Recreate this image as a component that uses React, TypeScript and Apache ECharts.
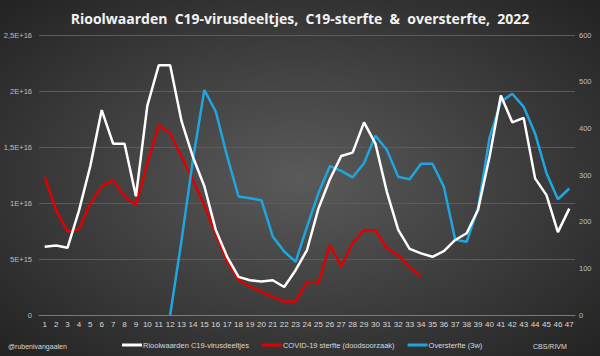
import React, { useEffect, useRef } from "react";
import * as echarts from "echarts";

const weeks = Array.from({ length: 47 }, (_, i) => String(i + 1));

// Rioolwaarden C19-virusdeeltjes (left axis, x1E15)
const rioolE15 = [
  6.1, 6.2, 6.0, 9.3, 13.3, 18.3, 15.3, 15.3, 10.6, 18.7, 22.3, 22.3, 17.3, 14.1, 11.5, 7.6,
  5.2, 3.4, 3.1, 3.0, 3.1, 2.5, 4.0, 5.8, 9.5, 12.1, 14.2, 14.5, 17.2, 15.3, 11.0, 7.6,
  5.9, 5.5, 5.2, 5.7, 6.7, 7.3, 9.4, 14.1, 19.6, 17.2, 17.6, 12.2, 10.7, 7.4, 9.5,
];

// COVID-19 sterfte (doodsoorzaak) (right axis)
const covidSterfte: (number | null)[] = [
  296, 225, 179, 184, 239, 275, 289, 254, 236, 325, 407, 389, 339, 289, 235, 173, 115,
  75, 61, 50, 39, 29, 29, 71, 68, 150, 104, 154, 182, 181, 143, 128, 102, 82,
  null, null, null, null, null, null, null, null, null, null, null, null, null,
];

// Oversterfte (3w) (right axis)
const oversterfte: (number | null)[] = [
  null, null, null, null, null, null, null, null, null, null, null, 0, 160, 333, 482, 436, 340,
  254, 250, 246, 168, 136, 114, 189, 261, 319, 309, 295, 325, 384, 354, 296, 291, 324, 324,
  275, 161, 157, 229, 379, 457, 474, 446, 389, 304, 248, 271,
];

const leftTickLabels: Record<string, string> = {
  "0": "0",
  "5": "5E+15",
  "10": "1E+16",
  "15": "1,5E+16",
  "20": "2E+16",
  "25": "2,5E+16",
};

const rioolValues = rioolE15.map((v) => v * 1e15);

export default function App() {
  const ref = useRef<HTMLDivElement>(null);
  useEffect(() => {
    if (!ref.current) return;
    const chart = echarts.init(ref.current, undefined, { renderer: "svg" });
    const font = "'Open Sans', 'Liberation Sans', sans-serif";
    const small = "'Liberation Sans', Arial, sans-serif";
    chart.setOption({
      animation: false,
      backgroundColor: {
        type: "radial",
        x: 0.5,
        y: 0.5,
        r: 0.75,
        colorStops: [
          { offset: 0, color: "#5a5a5a" },
          { offset: 1, color: "#1f1f1f" },
        ],
      },
      textStyle: { fontFamily: font },
      title: {
        text: "Rioolwaarden  C19-virusdeeltjes,  C19-sterfte  &  oversterfte,  2022",
        left: "center",
        top: 6,
        textStyle: { color: "#f2f2f2", fontSize: 14, fontWeight: "bold", fontFamily: font },
      },
      grid: { left: 39, right: 25, top: 35, bottom: 41, containLabel: false },
      legend: {
        top: 336,
        left: 117,
        itemWidth: 20,
        itemHeight: 3,
        itemGap: 13,
        icon: "rect",
        textStyle: { color: "#d9d9d9", fontSize: 7.5, fontFamily: small, padding: [0, 0, 0, -4] },
        data: [
          { name: "Rioolwaarden C19-virusdeeltjes", itemStyle: { color: "#ffffff" } },
          { name: "COVID-19 sterfte (doodsoorzaak)", itemStyle: { color: "#e00000" } },
          { name: "Oversterfte (3w)", itemStyle: { color: "#1ea6df" } },
        ],
      },
      graphic: [
        {
          type: "text",
          left: 8,
          top: 343,
          style: { text: "@rubenivangaalen", fill: "#d9d9d9", fontSize: 7, fontFamily: small },
        },
        {
          type: "text",
          left: 533,
          top: 343,
          style: { text: "CBS/RIVM", fill: "#d9d9d9", fontSize: 7, fontFamily: small },
        },
      ],
      xAxis: {
        type: "category",
        data: weeks,
        boundaryGap: true,
        axisLine: { lineStyle: { color: "#7a7a7a", width: 1 } },
        axisTick: { show: false },
        axisLabel: { color: "#d9d9d9", fontSize: 8, interval: 0, margin: 5, fontFamily: small },
      },
      yAxis: [
        {
          type: "value",
          min: 0,
          max: 2.5e16,
          interval: 5e15,
          axisLine: { show: false },
          axisTick: { show: false },
          axisLabel: {
            color: "#bfbfbf",
            fontSize: 7.5,
            margin: 7,
            fontFamily: small,
            formatter: (v: number) => leftTickLabels[String(Math.round(v / 1e15))] ?? "",
          },
          splitLine: { lineStyle: { color: "#5c5c5c", width: 1 } },
        },
        {
          type: "value",
          min: 0,
          max: 600,
          interval: 100,
          axisLine: { show: false },
          axisTick: { show: false },
          axisLabel: { color: "#bfbfbf", fontSize: 7.5, margin: 4, fontFamily: small },
          splitLine: { show: false },
        },
      ],
      series: [
        {
          name: "Rioolwaarden C19-virusdeeltjes",
          type: "line",
          yAxisIndex: 0,
          data: rioolValues,
          showSymbol: false,
          symbol: "none",
          lineStyle: { color: "#ffffff", width: 2.5 },
          itemStyle: { color: "#ffffff" },
          z: 3,
        },
        {
          name: "COVID-19 sterfte (doodsoorzaak)",
          type: "line",
          yAxisIndex: 1,
          data: covidSterfte,
          showSymbol: false,
          symbol: "none",
          lineStyle: { color: "#e00000", width: 2.5 },
          itemStyle: { color: "#e00000" },
          z: 2,
        },
        {
          name: "Oversterfte (3w)",
          type: "line",
          yAxisIndex: 1,
          data: oversterfte,
          showSymbol: false,
          symbol: "none",
          lineStyle: { color: "#1ea6df", width: 2.5 },
          itemStyle: { color: "#1ea6df" },
          z: 2,
        },
      ],
    });
    return () => chart.dispose();
  }, []);
  return <div ref={ref} style={{ width: 600, height: 356, position: "absolute", left: 0, top: 0 }} />;
}
